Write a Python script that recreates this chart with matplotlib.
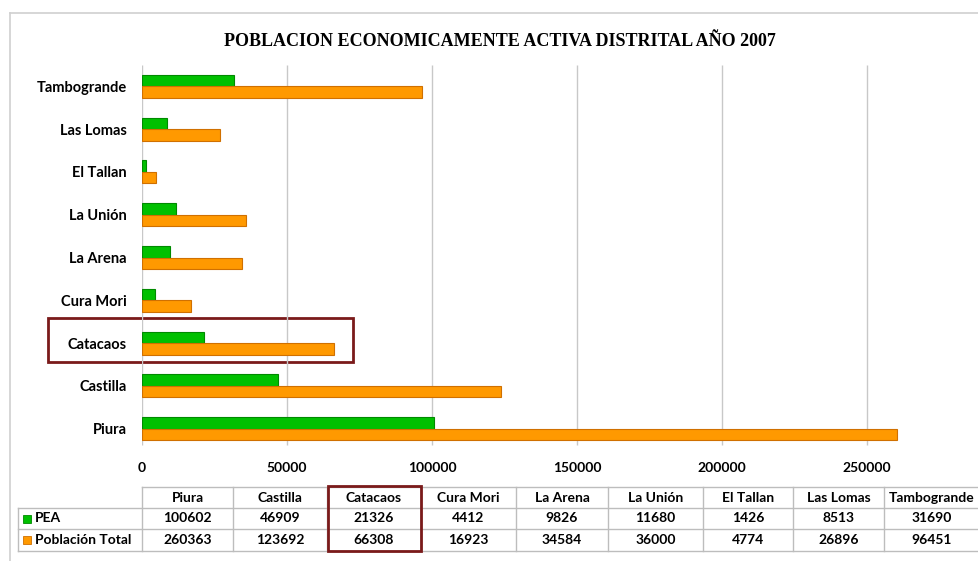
import numpy as np
import matplotlib.pyplot as plt
from matplotlib.patches import Rectangle

# data (bottom to top in the chart)
distritos = ['Piura', 'Castilla', 'Catacaos', 'Cura Mori', 'La Arena',
             'La Unión', 'El Tallan', 'Las Lomas', 'Tambogrande']
pea = [100602, 46909, 21326, 4412, 9826, 11680, 1426, 8513, 31690]
pob_total = [260363, 123692, 66308, 16923, 34584, 36000, 4774, 26896, 96451]
series_names = ['PEA', 'Población Total']
x_ticks = [0, 50000, 100000, 150000, 200000, 250000]

green, green_edge = '#00C000', '#008A00'
orange, orange_edge = '#FF9900', '#D07000'
dark_red = '#7A1A1A'
grid_col = '#C8C8C8'
font = 'Lato'

W, H = 979, 561
fig = plt.figure(figsize=(W / 100, H / 100), dpi=100)

# overlay axes in pixel coordinates for frame, table and highlight boxes
ov = fig.add_axes([0, 0, 1, 1])
ov.set_xlim(0, W)
ov.set_ylim(H, 0)
ov.axis('off')

# chart axes
left, top, bottom = 142, 65, 450
ax = fig.add_axes([left / W, 1 - bottom / H, (W - left) / W, (bottom - top) / H])
ax.set_facecolor('none')
y = np.arange(len(distritos))
h = 0.27
ax.barh(y + h / 2, pea, height=h, color=green, edgecolor=green_edge, linewidth=0.8, zorder=3)
ax.barh(y - h / 2, pob_total, height=h, color=orange, edgecolor=orange_edge, linewidth=0.8, zorder=3)
ax.set_xlim(0, (W - left) / 145 * 50000)
ax.set_ylim(-0.5, len(distritos) - 0.5)
ax.vlines(x_ticks, -0.38, len(distritos) - 0.5, color=grid_col, linewidth=1, zorder=0)
ax.set_xticks(x_ticks)
ax.set_xticklabels([str(v) for v in x_ticks], fontsize=10, fontweight='bold', family=font)
ax.set_yticks(y)
ax.set_yticklabels(distritos, fontsize=10.5, fontweight='bold', family=font)
ax.tick_params(length=0)
ax.tick_params(axis='x', pad=9)
ax.tick_params(axis='y', pad=11)
for s in ax.spines.values():
    s.set_visible(False)

# frame around the chart
ov.plot([10, 10], [13, H], color='#D0D0D0', lw=1.2)
ov.plot([10, W], [13, 13], color='#D0D0D0', lw=1.2)

fig.text(500 / W, 1 - 41 / H, 'POBLACION ECONOMICAMENTE ACTIVA DISTRITAL AÑO 2007',
         ha='center', va='center', fontsize=13, fontweight='bold',
         family='Liberation Serif')

# data table under the chart
cols = [142, 233, 327, 421, 516, 608, 703, 793, 884, 979]
rows = [487, 508, 529, 551]
tc = '#BDBDBD'
ov.plot([cols[0], W], [rows[0], rows[0]], color=tc, lw=1)
for r in rows[1:]:
    ov.plot([18, W], [r, r], color=tc, lw=1)
ov.plot([18, 18], [rows[1], rows[3]], color=tc, lw=1)
for c in cols:
    ov.plot([c, c], [rows[0], rows[3]], color=tc, lw=1)

tk = dict(ha='center', va='center', fontsize=10, fontweight='bold', family=font)
for i, name in enumerate(distritos):
    xc = (cols[i] + cols[i + 1]) / 2
    ov.text(xc, (rows[0] + rows[1]) / 2, name, **tk)
    ov.text(xc, (rows[1] + rows[2]) / 2, str(pea[i]), **tk)
    ov.text(xc, (rows[2] + rows[3]) / 2, str(pob_total[i]), **tk)

for j, (name, fc, ec) in enumerate(zip(series_names, [green, orange], [green_edge, orange_edge])):
    yc = (rows[j + 1] + rows[j + 2]) / 2
    ov.add_patch(Rectangle((23, yc - 4), 8, 8, facecolor=fc, edgecolor=ec, lw=0.6))
    ov.text(35, yc, name, ha='left', va='center', fontsize=10, fontweight='bold', family=font)

# highlight boxes for Catacaos
ov.add_patch(Rectangle((328, 486), 93, 65, fill=False, edgecolor=dark_red, lw=2, zorder=5))
ov.add_patch(Rectangle((48, 318), 305, 44, fill=False, edgecolor=dark_red, lw=2, zorder=5))

fig.savefig('out.png', dpi=100)
